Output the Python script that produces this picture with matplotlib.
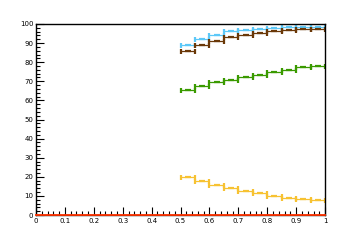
import numpy as np
import matplotlib
matplotlib.use("Agg")
import matplotlib.pyplot as plt
from matplotlib.ticker import MultipleLocator

bin_edges_lo = [0.50, 0.55, 0.60, 0.65, 0.70, 0.75, 0.80, 0.85, 0.90, 0.95]
bin_width = 0.05
blue = [88.9, 91.9, 94.3, 96.1, 97.1, 97.6, 98.0, 98.5, 98.5, 98.5]
brown = [86.1, 88.9, 91.3, 93.3, 94.3, 95.4, 96.4, 97.1, 97.5, 97.6]
green = [65.6, 67.7, 69.8, 70.7, 72.4, 73.1, 74.9, 76.0, 77.3, 77.8]
yellow = [20.1, 17.8, 15.7, 14.0, 12.8, 11.4, 10.0, 8.8, 8.4, 7.9]
red_x = [0.0, 1.0]
red_y = [0.0, 0.0]

fig = plt.figure(figsize=(3.6, 2.4), dpi=100)
ax = fig.add_axes([0.1, 0.104, 0.803, 0.796])

centers = np.array(bin_edges_lo) + bin_width / 2
series = [(blue, "#5cc8f8"), (brown, "#6a3808"), (green, "#3a9a00"), (yellow, "#f7c232")]
for vals, col in series:
    ax.errorbar(centers, vals, xerr=bin_width / 2, fmt="_", color=col, ms=4, mew=1.6,
                elinewidth=0.9, capsize=1.8, capthick=0.8, linestyle="none")

ax.plot(red_x, red_y, color="#ff3300", lw=1.3, clip_on=False, zorder=5)

ax.set_xlim(0, 1)
ax.set_ylim(0, 100)
ax.xaxis.set_major_locator(MultipleLocator(0.1))
ax.xaxis.set_minor_locator(MultipleLocator(0.02))
ax.yaxis.set_major_locator(MultipleLocator(10))
ax.yaxis.set_minor_locator(MultipleLocator(2))
ax.tick_params(which="both", direction="in", top=False, right=False, labelsize=5, pad=2)
ax.tick_params(which="major", length=6, width=0.8)
ax.tick_params(which="minor", length=3, width=0.8)
ax.set_xticks(np.round(np.arange(0, 1.01, 0.1), 1))
ax.set_xticklabels(["0", "0.1", "0.2", "0.3", "0.4", "0.5", "0.6", "0.7", "0.8", "0.9", "1"])
for s in ax.spines.values():
    s.set_linewidth(1.0)

fig.savefig("out.png", dpi=100)
